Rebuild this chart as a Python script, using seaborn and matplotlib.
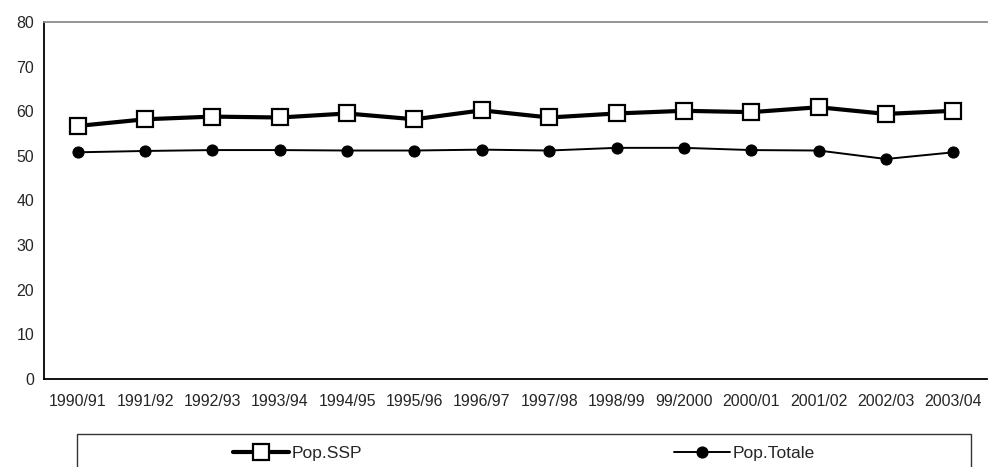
import matplotlib
matplotlib.use("Agg")
import matplotlib.pyplot as plt
import matplotlib.patches as mpatches
import pandas as pd
import seaborn as sns

seasons = ["1990/91", "1991/92", "1992/93", "1993/94", "1994/95", "1995/96", "1996/97",
           "1997/98", "1998/99", "99/2000", "2000/01", "2001/02", "2002/03", "2003/04"]
pop_ssp = [56.7, 58.2, 58.8, 58.6, 59.5, 58.2, 60.2, 58.6, 59.5, 60.1, 59.8, 60.9, 59.4, 60.1]
pop_totale = [50.8, 51.1, 51.3, 51.3, 51.2, 51.2, 51.4, 51.2, 51.8, 51.8, 51.3, 51.2, 49.3, 50.8]
y_ticks = [0, 10, 20, 30, 40, 50, 60, 70, 80]

sns.set_style("white")
plt.rcParams["font.family"] = ["Liberation Sans", "DejaVu Sans"]

df = pd.DataFrame({"season": seasons, "ssp": pop_ssp, "totale": pop_totale})
df["pos"] = range(len(df))

W, H = 988, 467
fig = plt.figure(figsize=(W / 100, H / 100), dpi=100)
ax = fig.add_axes([44 / W, (H - 379) / H, (987 - 44) / W, (379 - 22) / H])

sns.lineplot(data=df, x="pos", y="ssp", ax=ax, color="black", linewidth=3.0,
             marker="s", markersize=12, markerfacecolor="white",
             markeredgecolor="black", markeredgewidth=1.6, label="Pop.SSP", legend=False)
sns.lineplot(data=df, x="pos", y="totale", ax=ax, color="black", linewidth=1.4,
             marker="o", markersize=8, markerfacecolor="black",
             markeredgecolor="black", label="Pop.Totale", legend=False)

n = len(seasons)
ax.set_xlim(-0.5, n - 0.5)
ax.set_ylim(0, 80)
ax.set_yticks(y_ticks)
ax.set_xticks(range(n))
ax.set_xticklabels(seasons)
ax.set_xticks([i - 0.5 for i in range(n + 1)], minor=True)
ax.tick_params(axis="x", which="major", length=0, pad=11, labelsize=11.4)
ax.tick_params(axis="x", which="minor", length=5, width=1, color="black", direction="out")
ax.tick_params(axis="y", length=5, width=1, color="black", direction="out", labelsize=11.4, pad=2)
ax.set_xlabel("")
ax.set_ylabel("")

for side in ["left", "bottom"]:
    ax.spines[side].set_color("black")
    ax.spines[side].set_linewidth(1.3)
ax.spines["top"].set_color("#8c8c8c")
ax.spines["top"].set_linewidth(1.3)
ax.spines["right"].set_visible(False)

box = mpatches.Rectangle((77 / W, -0.05), (971 - 77) / W, (H - 434) / H + 0.05,
                         transform=fig.transFigure, facecolor="white",
                         edgecolor="#333333", linewidth=1.0)
fig.patches.append(box)

handles, labels = ax.get_legend_handles_labels()
fig.legend(handles, labels, loc="center", bbox_to_anchor=(524 / W, (H - 453) / H),
           ncol=2, frameon=False, fontsize=12.5, handlelength=3.2, handletextpad=0.15,
           columnspacing=18)

fig.savefig("out.png", dpi=100)
